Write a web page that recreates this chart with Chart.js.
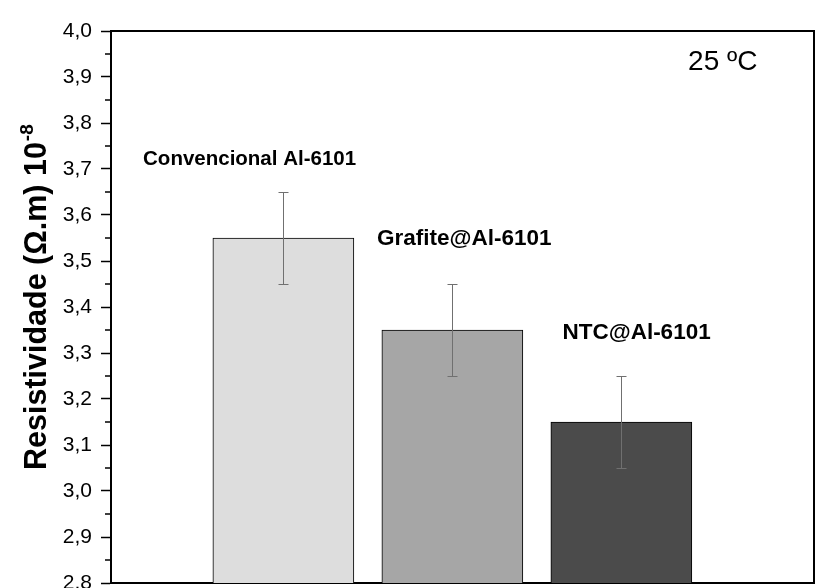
<!DOCTYPE html>
<html>
<head>
<meta charset="utf-8">
<script src="https://cdn.jsdelivr.net/npm/chart.js@4/dist/chart.umd.min.js"></script>
<style>
  html, body { margin: 0; padding: 0; background: #ffffff; }
  #wrap { width: 817px; height: 588px; overflow: hidden; position: relative; }
  canvas { display: block; }
</style>
</head>
<body>
<div id="wrap"><canvas id="c" width="817" height="610"></canvas></div>
<script>
// Resistivity of the three conductor samples at 25 °C
const samples = ['Convencional Al-6101', 'Grafite@Al-6101', 'NTC@Al-6101'];
const samplePos = [1, 2, 3];
const resistivity = [3.55, 3.35, 3.15];
const resistivityErr = [0.10, 0.10, 0.10];
const barColors = ['#dddddd', '#a6a6a6', '#4b4b4b'];

// where each sample name is written (x in sample units, y in resistivity units)
const labelAnchorX = [0.80, 2.07, 3.09];
const labelAnchorY = [3.72, 3.548, 3.345];
const labelFontSize = [20.5, 22.5, 22.5];

const yMin = 2.8, yMax = 4.0, yStep = 0.1;
const tempLabel = '25 ºC';
const yTitleMain = 'Resistividade (Ω.m) 10';
const yTitleSup = '-8';

const FONT = '"Liberation Sans", Arial, Helvetica, sans-serif';

const decorations = {
  id: 'decorations',
  afterDatasetsDraw(chart) {
    const ctx = chart.ctx;
    const xs = chart.scales.x, ys = chart.scales.y;

    // error bars
    ctx.save();
    ctx.strokeStyle = '#707070';
    ctx.lineWidth = 1;
    resistivity.forEach((v, i) => {
      const x = Math.round(xs.getPixelForValue(samplePos[i])) + 0.5;
      const yTop = Math.round(ys.getPixelForValue(v + resistivityErr[i])) + 0.5;
      const yBot = Math.round(ys.getPixelForValue(v - resistivityErr[i])) + 0.5;
      ctx.beginPath();
      ctx.moveTo(x, yTop); ctx.lineTo(x, yBot);
      ctx.moveTo(x - 5, yTop); ctx.lineTo(x + 5, yTop);
      ctx.moveTo(x - 5, yBot); ctx.lineTo(x + 5, yBot);
      ctx.stroke();
    });
    ctx.restore();

    // sample names
    ctx.save();
    ctx.fillStyle = '#000000';
    ctx.textAlign = 'center';
    ctx.textBaseline = 'middle';
    samples.forEach((s, i) => {
      ctx.font = 'bold ' + labelFontSize[i] + 'px ' + FONT;
      ctx.fillText(s, xs.getPixelForValue(labelAnchorX[i]), ys.getPixelForValue(labelAnchorY[i]));
    });
    // temperature note
    ctx.font = '28px ' + FONT;
    ctx.fillText(tempLabel, xs.getPixelForValue(3.6), ys.getPixelForValue(3.933));
    ctx.restore();
  },
  afterDraw(chart) {
    const ctx = chart.ctx;
    const ys = chart.scales.y;
    const area = chart.chartArea;

    // top and right frame lines
    ctx.save();
    ctx.strokeStyle = '#000000';
    ctx.lineWidth = 2;
    ctx.beginPath();
    ctx.moveTo(area.left, area.top);
    ctx.lineTo(area.right, area.top);
    ctx.lineTo(area.right, area.bottom);
    ctx.stroke();

    // minor ticks on the left axis
    ctx.lineWidth = 1.5;
    for (let v = yMin + yStep / 2; v < yMax; v += yStep) {
      const y = Math.round(ys.getPixelForValue(v));
      ctx.beginPath();
      ctx.moveTo(area.left, y);
      ctx.lineTo(area.left - 6, y);
      ctx.stroke();
    }
    ctx.restore();

    // y axis title with superscript exponent
    ctx.save();
    ctx.fillStyle = '#000000';
    ctx.translate(46, 470);
    ctx.rotate(-Math.PI / 2);
    ctx.textAlign = 'left';
    ctx.textBaseline = 'alphabetic';
    ctx.font = 'bold 30.5px ' + FONT;
    ctx.fillText(yTitleMain, 0, 0);
    const w = ctx.measureText(yTitleMain).width;
    ctx.font = 'bold 19px ' + FONT;
    ctx.fillText(yTitleSup, w + 1, -13);
    ctx.restore();
  }
};

new Chart(document.getElementById('c'), {
  type: 'bar',
  data: {
    datasets: [{
      data: samplePos.map((x, i) => ({ x: x, y: resistivity[i] })),
      backgroundColor: barColors,
      borderColor: '#000000',
      borderWidth: 1,
      borderSkipped: 'start',
      barThickness: 141
    }]
  },
  options: {
    responsive: false,
    animation: false,
    devicePixelRatio: 1,
    layout: { padding: { left: 0, right: 3, top: 31, bottom: 27 } },
    plugins: { legend: { display: false }, tooltip: { enabled: false }, title: { display: false } },
    scales: {
      x: {
        type: 'linear',
        offset: false,
        min: -0.02,
        max: 4.14,
        ticks: { display: false },
        grid: { display: false, drawTicks: false, offset: false },
        border: { display: true, color: '#000000', width: 2 },
        afterFit(scale) { scale.height = 0; }
      },
      y: {
        type: 'linear',
        min: yMin,
        max: yMax,
        ticks: {
          stepSize: yStep,
          padding: 9,
          color: '#000000',
          font: { family: FONT, size: 21 },
          callback: (v) => v.toFixed(1).replace('.', ',')
        },
        grid: {
          display: true,
          drawOnChartArea: false,
          drawTicks: true,
          tickLength: 10,
          tickWidth: 1.5,
          tickColor: '#000000'
        },
        border: { display: true, color: '#000000', width: 2 },
        afterFit(scale) { scale.width = 111; }
      }
    }
  },
  plugins: [decorations]
});
</script>
</body>
</html>
